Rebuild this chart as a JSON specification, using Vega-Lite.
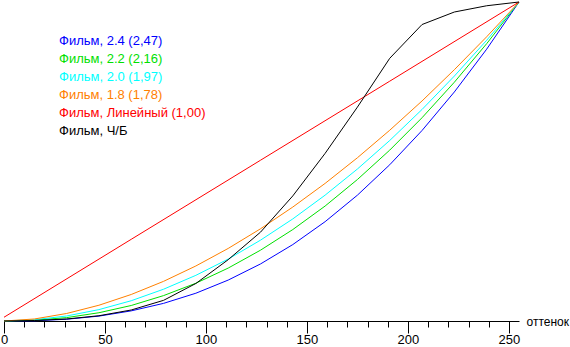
{
  "$schema": "https://vega.github.io/schema/vega-lite/v6.json",
  "autosize": "none",
  "width": 515,
  "height": 319,
  "padding": {"left": 4, "top": 2, "right": 51, "bottom": 26},
  "background": "white",
  "config": {
    "view": {"stroke": null},
    "font": "Liberation Sans",
    "axis": {"grid": false, "domainColor": "black", "tickColor": "black", "labelColor": "black", "labelFont": "Liberation Sans", "labelFontSize": 13, "titleFont": "Liberation Sans", "titleFontWeight": "normal", "titleFontSize": 12, "titleColor": "black"}
  },
  "data": {"values": [
    {"s": "Фильм, 2.4 (2,47)", "x": 0, "y": 0},
    {"s": "Фильм, 2.4 (2,47)", "x": 15, "y": 0.2},
    {"s": "Фильм, 2.4 (2,47)", "x": 31, "y": 1.4},
    {"s": "Фильм, 2.4 (2,47)", "x": 47, "y": 3.9},
    {"s": "Фильм, 2.4 (2,47)", "x": 63, "y": 8.1},
    {"s": "Фильм, 2.4 (2,47)", "x": 79, "y": 14.1},
    {"s": "Фильм, 2.4 (2,47)", "x": 95, "y": 22.2},
    {"s": "Фильм, 2.4 (2,47)", "x": 111, "y": 32.7},
    {"s": "Фильм, 2.4 (2,47)", "x": 127, "y": 45.6},
    {"s": "Фильм, 2.4 (2,47)", "x": 143, "y": 61.1},
    {"s": "Фильм, 2.4 (2,47)", "x": 159, "y": 79.4},
    {"s": "Фильм, 2.4 (2,47)", "x": 175, "y": 100.6},
    {"s": "Фильм, 2.4 (2,47)", "x": 191, "y": 124.9},
    {"s": "Фильм, 2.4 (2,47)", "x": 207, "y": 152.3},
    {"s": "Фильм, 2.4 (2,47)", "x": 223, "y": 183.1},
    {"s": "Фильм, 2.4 (2,47)", "x": 239, "y": 217.3},
    {"s": "Фильм, 2.4 (2,47)", "x": 255, "y": 255},
    {"s": "Фильм, 2.2 (2,16)", "x": 0, "y": 0},
    {"s": "Фильм, 2.2 (2,16)", "x": 15, "y": 0.6},
    {"s": "Фильм, 2.2 (2,16)", "x": 31, "y": 2.7},
    {"s": "Фильм, 2.2 (2,16)", "x": 47, "y": 6.6},
    {"s": "Фильм, 2.2 (2,16)", "x": 63, "y": 12.4},
    {"s": "Фильм, 2.2 (2,16)", "x": 79, "y": 20.3},
    {"s": "Фильм, 2.2 (2,16)", "x": 95, "y": 30.2},
    {"s": "Фильм, 2.2 (2,16)", "x": 111, "y": 42.3},
    {"s": "Фильм, 2.2 (2,16)", "x": 127, "y": 56.6},
    {"s": "Фильм, 2.2 (2,16)", "x": 143, "y": 73.1},
    {"s": "Фильм, 2.2 (2,16)", "x": 159, "y": 91.9},
    {"s": "Фильм, 2.2 (2,16)", "x": 175, "y": 113.1},
    {"s": "Фильм, 2.2 (2,16)", "x": 191, "y": 136.6},
    {"s": "Фильм, 2.2 (2,16)", "x": 207, "y": 162.5},
    {"s": "Фильм, 2.2 (2,16)", "x": 223, "y": 190.9},
    {"s": "Фильм, 2.2 (2,16)", "x": 239, "y": 221.7},
    {"s": "Фильм, 2.2 (2,16)", "x": 255, "y": 255},
    {"s": "Фильм, 2.0 (1,97)", "x": 0, "y": 0},
    {"s": "Фильм, 2.0 (1,97)", "x": 15, "y": 1.0},
    {"s": "Фильм, 2.0 (1,97)", "x": 31, "y": 4.0},
    {"s": "Фильм, 2.0 (1,97)", "x": 47, "y": 9.1},
    {"s": "Фильм, 2.0 (1,97)", "x": 63, "y": 16.2},
    {"s": "Фильм, 2.0 (1,97)", "x": 79, "y": 25.4},
    {"s": "Фильм, 2.0 (1,97)", "x": 95, "y": 36.5},
    {"s": "Фильм, 2.0 (1,97)", "x": 111, "y": 49.5},
    {"s": "Фильм, 2.0 (1,97)", "x": 127, "y": 64.6},
    {"s": "Фильм, 2.0 (1,97)", "x": 143, "y": 81.6},
    {"s": "Фильм, 2.0 (1,97)", "x": 159, "y": 100.6},
    {"s": "Фильм, 2.0 (1,97)", "x": 175, "y": 121.5},
    {"s": "Фильм, 2.0 (1,97)", "x": 191, "y": 144.3},
    {"s": "Фильм, 2.0 (1,97)", "x": 207, "y": 169.1},
    {"s": "Фильм, 2.0 (1,97)", "x": 223, "y": 195.8},
    {"s": "Фильм, 2.0 (1,97)", "x": 239, "y": 224.4},
    {"s": "Фильм, 2.0 (1,97)", "x": 255, "y": 255},
    {"s": "Фильм, 1.8 (1,78)", "x": 0, "y": 0},
    {"s": "Фильм, 1.8 (1,78)", "x": 15, "y": 1.6},
    {"s": "Фильм, 1.8 (1,78)", "x": 31, "y": 6.0},
    {"s": "Фильм, 1.8 (1,78)", "x": 47, "y": 12.6},
    {"s": "Фильм, 1.8 (1,78)", "x": 63, "y": 21.2},
    {"s": "Фильм, 1.8 (1,78)", "x": 79, "y": 31.7},
    {"s": "Фильм, 1.8 (1,78)", "x": 95, "y": 44.0},
    {"s": "Фильм, 1.8 (1,78)", "x": 111, "y": 58.0},
    {"s": "Фильм, 1.8 (1,78)", "x": 127, "y": 73.7},
    {"s": "Фильм, 1.8 (1,78)", "x": 143, "y": 91.1},
    {"s": "Фильм, 1.8 (1,78)", "x": 159, "y": 110.0},
    {"s": "Фильм, 1.8 (1,78)", "x": 175, "y": 130.5},
    {"s": "Фильм, 1.8 (1,78)", "x": 191, "y": 152.5},
    {"s": "Фильм, 1.8 (1,78)", "x": 207, "y": 175.9},
    {"s": "Фильм, 1.8 (1,78)", "x": 223, "y": 200.9},
    {"s": "Фильм, 1.8 (1,78)", "x": 239, "y": 227.2},
    {"s": "Фильм, 1.8 (1,78)", "x": 255, "y": 255},
    {"s": "Фильм, Линейный (1,00)", "x": 0, "y": 3},
    {"s": "Фильм, Линейный (1,00)", "x": 63, "y": 65.3},
    {"s": "Фильм, Линейный (1,00)", "x": 127, "y": 128.5},
    {"s": "Фильм, Линейный (1,00)", "x": 191, "y": 191.7},
    {"s": "Фильм, Линейный (1,00)", "x": 255, "y": 255},
    {"s": "Фильм, Ч/Б", "x": 0, "y": 0},
    {"s": "Фильм, Ч/Б", "x": 15, "y": 0.4},
    {"s": "Фильм, Ч/Б", "x": 31, "y": 1.6},
    {"s": "Фильм, Ч/Б", "x": 47, "y": 4.2},
    {"s": "Фильм, Ч/Б", "x": 63, "y": 8.8},
    {"s": "Фильм, Ч/Б", "x": 79, "y": 16.5},
    {"s": "Фильм, Ч/Б", "x": 95, "y": 30},
    {"s": "Фильм, Ч/Б", "x": 111, "y": 49},
    {"s": "Фильм, Ч/Б", "x": 127, "y": 71},
    {"s": "Фильм, Ч/Б", "x": 143, "y": 100},
    {"s": "Фильм, Ч/Б", "x": 159, "y": 134},
    {"s": "Фильм, Ч/Б", "x": 175, "y": 171},
    {"s": "Фильм, Ч/Б", "x": 191, "y": 210},
    {"s": "Фильм, Ч/Б", "x": 207, "y": 237},
    {"s": "Фильм, Ч/Б", "x": 223, "y": 247},
    {"s": "Фильм, Ч/Б", "x": 239, "y": 252},
    {"s": "Фильм, Ч/Б", "x": 255, "y": 255}
  ]},
  "mark": {"type": "line", "strokeWidth": 1},
  "encoding": {
    "x": {"field": "x", "type": "quantitative", "scale": {"domain": [0, 255], "nice": false},
      "axis": {
        "values": [0, 10, 20, 30, 40, 50, 60, 70, 80, 90, 100, 110, 120, 130, 140, 150, 160, 170, 180, 190, 200, 210, 220, 230, 240, 250],
        "tickSize": {"condition": {"test": "datum.value % 50 === 0", "value": 12}, "value": 6},
        "labelExpr": "datum.value % 50 === 0 ? datum.label : ''",
        "labelPadding": 0, "labelFlush": false, "labelOverlap": false,
        "title": "оттенок", "titleAnchor": "end", "titleAlign": "left", "titleBaseline": "middle", "titleX": 522, "titleY": 0
      }
    },
    "y": {"field": "y", "type": "quantitative", "scale": {"domain": [0, 255], "nice": false}, "axis": null},
    "color": {
      "field": "s", "type": "nominal",
      "scale": {
        "domain": ["Фильм, 2.4 (2,47)", "Фильм, 2.2 (2,16)", "Фильм, 2.0 (1,97)", "Фильм, 1.8 (1,78)", "Фильм, Линейный (1,00)", "Фильм, Ч/Б"],
        "range": ["#0000ff", "#00e000", "#00ffff", "#ff8000", "#ff0000", "#000000"]
      },
      "legend": {
        "title": null, "orient": "none", "legendX": 42, "legendY": 32,
        "symbolSize": 0, "symbolOpacity": 0, "symbolStrokeWidth": 0, "labelOffset": 0,
        "labelFont": "Liberation Sans", "labelFontSize": 13, "labelLimit": 400,
        "rowPadding": 4, "padding": 0,
        "labelColor": {"expr": "scale('color', datum.value)"}
      }
    }
  }
}
